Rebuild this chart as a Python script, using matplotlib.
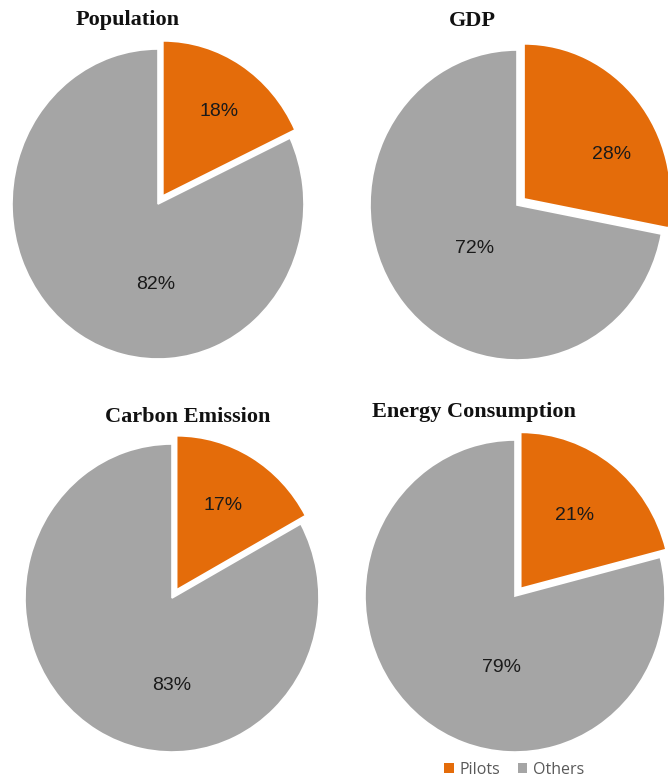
import numpy as np
import matplotlib.pyplot as plt
from matplotlib.patches import Patch

# Data
titles = ['Population', 'GDP', 'Carbon Emission', 'Energy Consumption']
pilots = [18, 28, 17, 21]
others = [82, 72, 83, 79]
series = ['Pilots', 'Others']
colors = ['#E46C0A', '#A5A5A5']

W, H = 668, 783
fig = plt.figure(figsize=(W / 100, H / 100), dpi=100)

# layout in pixels: pie centre x, y, x-radius, y-radius (source image is slightly stretched)
centres = [(158, 204, 146, 155), (517, 205, 147, 155),
           (172, 598, 147, 154), (515, 596, 150, 156)]
title_pos = [(128, 20), (472, 21), (188, 417), (474, 412)]
explode_frac = 0.062
# label placement (fraction of radius, angle in degrees)
pilot_lab = [(0.73, 55), (0.72, 27), (0.69, 60), (0.65, 52.5)]
other_lab = [(0.52, 268), (0.40, 224), (0.565, 270), (0.47, 259)]

for i, (title, p, o) in enumerate(zip(titles, pilots, others)):
    cx, cy, rx, ry = centres[i]
    ax = fig.add_axes([(cx - rx) / W, 1 - (cy + ry) / H, 2 * rx / W, 2 * ry / H])
    wedges, _ = ax.pie([p, o], colors=colors, startangle=90, counterclock=False,
                       explode=[explode_frac, 0],
                       wedgeprops=dict(edgecolor='white', linewidth=1.2))
    for w in wedges:
        w.set_clip_on(False)
    ax.set_xlim(-1, 1)
    ax.set_ylim(-1, 1)
    ax.set_aspect('auto')
    ax.axis('off')

    for (d, ang), val in zip([pilot_lab[i], other_lab[i]], [p, o]):
        a = np.deg2rad(ang)
        ax.text(d * np.cos(a), d * np.sin(a), f'{val}%', ha='center', va='center',
                fontsize=14, family='Liberation Sans', color='#1a1a1a')

    tx, ty = title_pos[i]
    fig.text(tx / W, 1 - ty / H, title, ha='center', va='center', fontsize=16,
             fontweight='bold', family='Liberation Serif', color='#111111')

handles = [Patch(facecolor=c, edgecolor='none') for c in colors]
fig.legend(handles, series, loc='center', bbox_to_anchor=(514 / W, 1 - 770 / H),
           ncol=2, frameon=False, handlelength=0.6, handleheight=0.6,
           handletextpad=0.35, columnspacing=1.1,
           prop=dict(family='Open Sans', size=11.5), labelcolor='#595959')

fig.savefig('out.png', dpi=100)
